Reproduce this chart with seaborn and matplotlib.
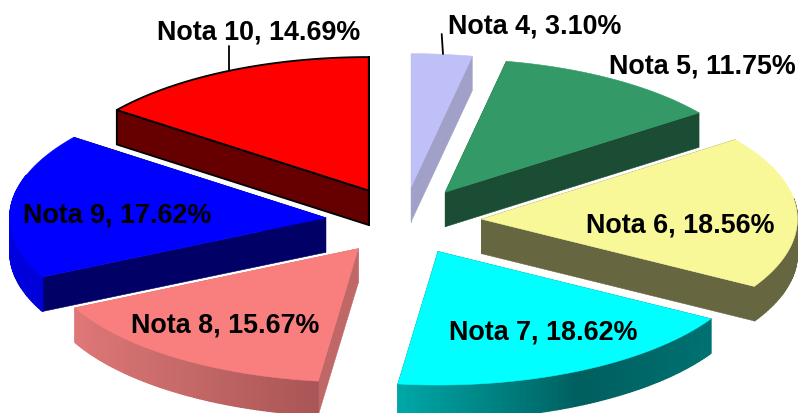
import numpy as np
import matplotlib
matplotlib.use("Agg")
import matplotlib.pyplot as plt
from matplotlib.patches import Polygon
import seaborn as sns

# ---- data ----
categories = ["Nota 4", "Nota 5", "Nota 6", "Nota 7", "Nota 8", "Nota 9", "Nota 10"]
values = [3.10, 11.75, 18.56, 18.62, 15.67, 17.62, 14.69]

# ---- styles ----
top_colors = ["#C0C0F8", "#339966", "#F8F898", "#00FFFF", "#F97F7F", "#0000FF", "#FF0000"]
side_colors = ["#A0A0C8", "#1A4D33", "#666640", "#006666", "#C06868", "#000066", "#660000"]
wall_stops = [
    ["#A0A0C8"],
    ["#1A4D33"],
    ["#666640"],
    ["#007272", "#005F5F", "#00A6A6"],
    ["#AA5656", "#C86A6A", "#E07878"],
    ["#0000D8", "#0000F0"],
    ["#660000"],
]
outline = [None, None, None, None, None, None, "black"]

# ---- geometry of the tilted, exploded pie (pixel-like axis units) ----
CX, CY = 403.5, 222
RX, RY = 316, 133.5
EX, EY = 78, 34
DEPTH = 34.5
draw_order = [6, 0, 1, 5, 2, 4, 3]

label_pos = [(534.5, 27), (702.5, 66), (680.5, 225.5), (543, 332.5), (225, 325.5), (117, 215.5), (258.5, 32)]
leaders = [((441.7, 35), (443, 55)), None, None, None, None, None, ((229, 47), (229, 71))]

sns.set_theme(style="white")
plt.rcParams["font.family"] = ["Liberation Sans", "DejaVu Sans"]

fig = plt.figure(figsize=(7.98, 4.14), dpi=100)
ax = fig.add_axes([0, 0, 1, 1])
ax.set_xlim(0, 798)
ax.set_ylim(414, 0)
ax.axis("off")

total = sum(values)
edges = np.concatenate([[0], np.cumsum(values)]) / total * 2 * np.pi


def add_poly(pts, fc, ec=None, lw=0.0, z=1.0, seam=0.4):
    ax.add_patch(Polygon(pts, closed=True, facecolor=fc,
                         edgecolor=ec if ec else fc, linewidth=lw if ec else seam,
                         joinstyle="round", zorder=z))


for rank, i in enumerate(draw_order):
    a0, a1 = edges[i], edges[i + 1]
    mid = (a0 + a1) / 2
    ax0 = CX + EX * np.sin(mid)
    ay0 = CY - EY * np.cos(mid)
    th = np.linspace(a0, a1, 90)
    rx = ax0 + RX * np.sin(th)
    ry = ay0 - RY * np.cos(th)
    z = 1 + rank
    ec = outline[i]
    lw = 1.3 if ec else 0
    d = np.array([0, DEPTH])
    apex = np.array([ax0, ay0])

    # radial walls
    for p in [(rx[0], ry[0]), (rx[-1], ry[-1])]:
        p = np.array(p)
        add_poly([apex, p, p + d, apex + d], side_colors[i], ec, lw, z)

    # outer wall, shaded along the arc
    stops = wall_stops[i]
    shades = sns.blend_palette(stops * 2 if len(stops) == 1 else stops, len(th) - 1)
    for k in range(len(th) - 1):
        if np.pi / 2 * 0.9 < th[k] < 2 * np.pi * 0.8:
            add_poly([(rx[k], ry[k]), (rx[k + 1], ry[k + 1]),
                      (rx[k + 1], ry[k + 1] + DEPTH), (rx[k], ry[k] + DEPTH)],
                     shades[k], None, 0, z, seam=1.0)

    # top face
    add_poly(np.vstack([apex, np.column_stack([rx, ry])]), top_colors[i], ec, lw, z + 0.5)

for seg in leaders:
    if seg:
        ax.plot([seg[0][0], seg[1][0]], [seg[0][1], seg[1][1]],
                color="black", lw=1.3, zorder=20)

for cat, val, (x, y) in zip(categories, values, label_pos):
    ax.text(x, y, f"{cat}, {val:.2f}%", ha="center", va="center",
            fontsize=19.4, fontweight="bold", color="black", zorder=30)

fig.savefig("out.png", dpi=100, facecolor="white")
